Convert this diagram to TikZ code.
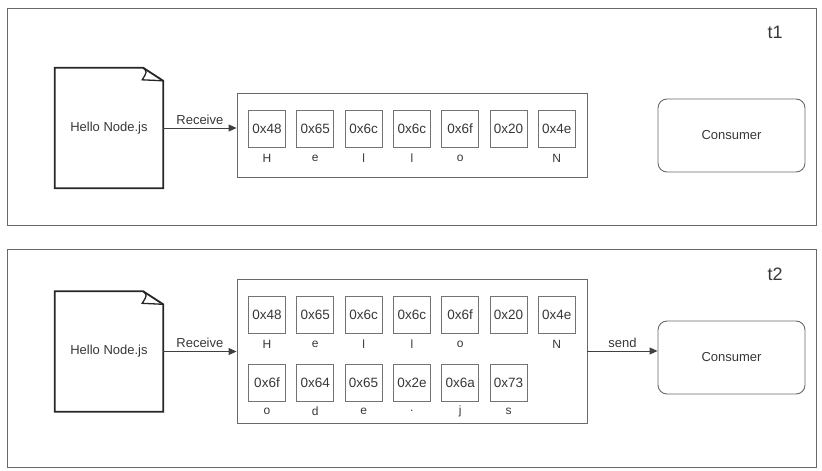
\documentclass[tikz,border=0pt]{standalone}
\usepackage{fontspec}
\setmainfont{Liberation Sans}
\usetikzlibrary{arrows.meta, positioning}
\definecolor{linegray}{RGB}{105, 105, 105}
\definecolor{cellgray}{RGB}{115, 115, 115}
\definecolor{txtgray}{RGB}{55, 55, 55}

\begin{document}
\begin{tikzpicture}[x=1pt, y=-1pt, text=txtgray,
    panel/.style={draw=linegray, line width=0.9pt, inner sep=0pt,
                  minimum width=809pt},
    bufbox/.style={draw=linegray, line width=0.9pt, inner sep=0pt,
                   minimum width=350pt},
    cell/.style={draw=cellgray, line width=0.9pt, minimum size=37pt, inner sep=0pt,
                 font=\fontsize{13.5}{15}\selectfont},
    chr/.style={inner sep=0pt, font=\fontsize{12}{13}\selectfont},
    docnode/.style={minimum width=108pt, minimum height=120pt, inner sep=0pt,
                    font=\fontsize{13}{15}\selectfont},
    docline/.style={draw=black!85, line width=1.8pt, line join=miter},
    consumer/.style={draw=linegray, line width=0.9pt, rounded corners=9pt,
                     minimum width=147pt, minimum height=73pt,
                     font=\fontsize{13}{15}\selectfont},
    lbl/.style={font=\fontsize{13}{15}\selectfont, inner sep=3pt},
    tlbl/.style={font=\fontsize{18}{20}\selectfont},
    arr/.style={draw=black!75, line width=0.9pt, -{Triangle[length=8pt, width=7pt]}}]
  \useasboundingbox (0,0) rectangle (822,471);

  % Panels
  \node[panel, minimum height=217pt] (panel1) at (411.5,116.5) {};
  \node[panel, minimum height=218pt] (panel2) at (411.5,358) {};
  \node[tlbl] (t1) at (775,32) {t1};
  \node[tlbl] (t2) at (775,274) {t2};

  % Source files
  \foreach \p/\y in {1/128, 2/351.5} {
    \node[docnode] (doc\p) at (109,\y) {Hello Node.js};
    \draw[docline] (doc\p.north west) -- ([xshift=-20pt]doc\p.north east)
      -- ([yshift=-13pt]doc\p.north east) -- (doc\p.south east)
      -- (doc\p.south west) -- cycle;
    \draw[docline, line width=1.3pt] ([xshift=-20pt]doc\p.north east)
      .. controls +(4pt,-4pt) .. ([xshift=-21pt, yshift=-12pt]doc\p.north east)
      -- ([yshift=-13pt]doc\p.north east);
  }

  % Buffers
  \node[bufbox, minimum height=84pt] (buf1) at (412,135) {};
  \node[bufbox, minimum height=144pt] (buf2) at (412,351) {};

  % Bytes at t1
  \foreach \i/\h/\c in {0/0x48/H, 1/0x65/e, 2/0x6c/l, 3/0x6c/l, 4/0x6f/o,
                        5/0x20/{}, 6/0x4e/N} {
    \node[cell] (a\i) at ({267+48.3*\i},128.5) {\h};
    \node[chr] (ca\i) at ({267+48.3*\i},158) {\c};
  }

  % Bytes at t2
  \foreach \i/\h/\c in {0/0x48/H, 1/0x65/e, 2/0x6c/l, 3/0x6c/l, 4/0x6f/o,
                        5/0x20/{}, 6/0x4e/N} {
    \node[cell] (b\i) at ({267+48.3*\i},314.5) {\h};
    \node[chr] (cb\i) at ({267+48.3*\i},344) {\c};
  }
  \foreach \i/\h/\c in {0/0x6f/o, 1/0x64/d, 2/0x65/e, 3/0x2e/., 4/0x6a/j,
                        5/0x73/s} {
    \node[cell] (d\i) at ({267+48.3*\i},382.5) {\h};
    \node[chr] (cd\i) at ({267+48.3*\i},411) {\c};
  }

  % Consumers
  \node[consumer] (cons1) at (731.5,135.5) {Consumer};
  \node[consumer] (cons2) at (731.5,357.5) {Consumer};

  % Edges
  \draw[arr] (doc1.east) -- node[above, lbl]{Receive} (doc1.east -| buf1.west);
  \draw[arr] (doc2.east) -- node[above, lbl]{Receive} (doc2.east -| buf2.west);
  \draw[arr] (buf2.east) -- node[above, lbl]{send} (buf2.east -| cons2.west);
\end{tikzpicture}
\end{document}
